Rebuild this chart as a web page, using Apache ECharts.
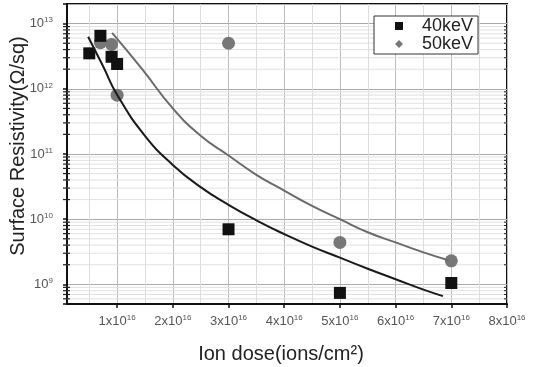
<!DOCTYPE html>
<html>
<head>
<meta charset="utf-8">
<script src="https://cdn.jsdelivr.net/npm/echarts@6/dist/echarts.min.js"></script>
<style>
  html, body { margin: 0; padding: 0; background: #fff; }
  #chart { width: 537px; height: 367px; }
</style>
</head>
<body>
<div id="chart"></div>
<script>
// measured points (x in units of 1e16 ions/cm2)
var dose40 = [0.5, 0.7, 0.9, 1.0, 3.0, 5.0, 7.0]
var res40 = [3.5e12, 6.5e12, 3.1e12, 2.4e12, 7e9, 7.4e8, 1.05e9]
var dose50 = [0.7, 0.9, 1.0, 3.0, 5.0, 7.0]
var res50 = [5.1e12, 4.8e12, 8e11, 5e12, 4.4e9, 2.3e9]

// fitted curves
var fit40X = [0.48, 0.75, 1.0, 1.5, 2.0, 2.5, 3.0, 3.5, 4.0, 4.5, 5.0, 5.5, 6.0, 6.5, 6.85]
var fit40Y = [6.3e12, 2.2e12, 8.1e11, 1.9e11, 6.8e10, 3.1e10, 1.66e10, 9.6e9, 5.9e9, 3.8e9, 2.57e9, 1.74e9, 1.2e9, 8.3e8, 6.6e8]
var fit50X = [0.91, 1.46, 2.0, 2.5, 3.0, 3.5, 4.0, 4.5, 5.0, 5.5, 6.0, 6.5, 6.95]
var fit50Y = [7.2e12, 1.95e12, 5.0e11, 1.9e11, 9.5e10, 4.8e10, 2.75e10, 1.6e10, 1.0e10, 6.3e9, 4.4e9, 3.1e9, 2.35e9]

var legendNames = ['40keV', '50keV']

// axis ranges
var xMin = 0.1
var xMax = 8
var yMin = 5e8
var yMax = 2e13

// minor log ticks 2..9 of each decade (axis decoration)
var minorVals = []
for (var e = 8; e <= 13; e++) {
  for (var k = 2; k <= 9; k++) {
    var mv = k * Math.pow(10, e)
    if (mv > yMin && mv < yMax) minorVals.push(mv)
  }
}

function pairs (xs, ys) {
  return xs.map(function (x, i) { return [x, ys[i]] })
}

var chart = echarts.init(document.getElementById('chart'))

var tickRich = {
  b: { fontSize: 13, color: '#555', fontFamily: 'Liberation Sans' },
  s: { fontSize: 8, color: '#555', fontFamily: 'Liberation Sans', padding: [0, 0, 7, 0] }
}

var option = {
  animation: false,
  backgroundColor: '#fff',
  textStyle: { fontFamily: 'Liberation Sans' },
  grid: {
    left: 67, top: 4, right: 30, bottom: 63,
    containLabel: false,
    outerBoundsMode: 'none',
    show: true,
    borderColor: '#111',
    borderWidth: 2
  },
  legend: {
    data: [
      { name: '40keV', icon: 'rect' },
      { name: '50keV', icon: 'diamond' }
    ],
    orient: 'vertical',
    left: 374,
    top: 16,
    itemWidth: 8,
    itemHeight: 8,
    itemGap: 0,
    padding: [1, 5, 1, 21],
    borderColor: '#333',
    borderWidth: 1,
    backgroundColor: '#fff',
    textStyle: { fontSize: 18, color: '#222', padding: [0, 0, 0, 14], lineHeight: 18 }
  },
  xAxis: {
    type: 'value',
    min: xMin,
    max: xMax,
    splitNumber: 8,
    name: 'Ion dose(ions/cm²)',
    nameLocation: 'middle',
    nameGap: 40,
    nameTextStyle: { fontSize: 20, color: '#222', padding: [0, 12, 0, 0] },
    axisLine: { lineStyle: { color: '#111', width: 2 } },
    axisTick: { show: true, length: 4, lineStyle: { color: '#111', width: 1.5 } },
    minorTick: { show: false, splitNumber: 2 },
    minorSplitLine: { show: true, lineStyle: { color: '#ddd', width: 1 } },
    splitLine: { show: true, lineStyle: { color: '#bbb', width: 1 } },
    axisLabel: {
      margin: 10,
      showMinLabel: false,
      formatter: function (v) {
        if (Math.abs(v - Math.round(v)) > 1e-6 || v < 1) return ''
        return '{b|' + Math.round(v) + 'x10}{s|16}'
      },
      rich: tickRich
    }
  },
  yAxis: {
    type: 'log',
    min: yMin,
    max: yMax,
    name: 'Surface Resistivity(Ω/sq)',
    nameLocation: 'middle',
    nameGap: 39,
    nameMoveOverlap: false,
    nameTextStyle: { fontSize: 20, color: '#222', padding: [0, 0, 0, 16] },
    axisLine: { lineStyle: { color: '#111', width: 2 } },
    axisTick: { show: true, length: 4, lineStyle: { color: '#111', width: 1.5 } },
    minorTick: { show: false },
    minorSplitLine: { show: false },
    splitLine: { show: true, lineStyle: { color: '#aaa', width: 1 } },
    axisLabel: {
      margin: 14,
      formatter: function (v) {
        var n = Math.log10(v)
        if (Math.abs(n - Math.round(n)) > 1e-6) return ''
        return '{b|10}{s|' + Math.round(n) + '}'
      },
      rich: tickRich
    }
  },
  series: [
    {
      // minor log grid lines and ticks
      name: 'minor',
      type: 'custom',
      silent: true,
      z: 1,
      clip: false,
      data: minorVals.map(function (v) { return [xMin, v] }),
      renderItem: function (params, api) {
        var v = api.value(1)
        var p0 = api.coord([xMin, v])
        var p1 = api.coord([xMax, v])
        return {
          type: 'group',
          children: [
            { type: 'line', shape: { x1: p0[0], y1: p0[1], x2: p1[0], y2: p1[1] }, style: { stroke: '#e0e0e0', lineWidth: 1 } },
            { type: 'line', shape: { x1: p0[0] - 4, y1: p0[1], x2: p0[0] + 3, y2: p0[1] }, style: { stroke: '#222', lineWidth: 1.2 } },
            { type: 'line', shape: { x1: p1[0] - 3, y1: p1[1], x2: p1[0], y2: p1[1] }, style: { stroke: '#222', lineWidth: 1 } }
          ]
        }
      }
    },
    {
      name: 'fit40',
      type: 'line',
      smooth: true,
      showSymbol: false,
      silent: true,
      lineStyle: { color: '#1a1a1a', width: 2 },
      data: pairs(fit40X, fit40Y)
    },
    {
      name: 'fit50',
      type: 'line',
      smooth: true,
      showSymbol: false,
      silent: true,
      lineStyle: { color: '#6a6a6a', width: 2 },
      data: pairs(fit50X, fit50Y)
    },
    {
      name: legendNames[1],
      type: 'scatter',
      symbol: 'circle',
      symbolSize: 13,
      itemStyle: { color: '#777', opacity: 1 },
      data: pairs(dose50, res50)
    },
    {
      name: legendNames[0],
      type: 'scatter',
      symbol: 'rect',
      symbolSize: 12,
      itemStyle: { color: '#111', opacity: 1 },
      data: pairs(dose40, res40)
    }
  ]
}

chart.setOption(option)
</script>
</body>
</html>
